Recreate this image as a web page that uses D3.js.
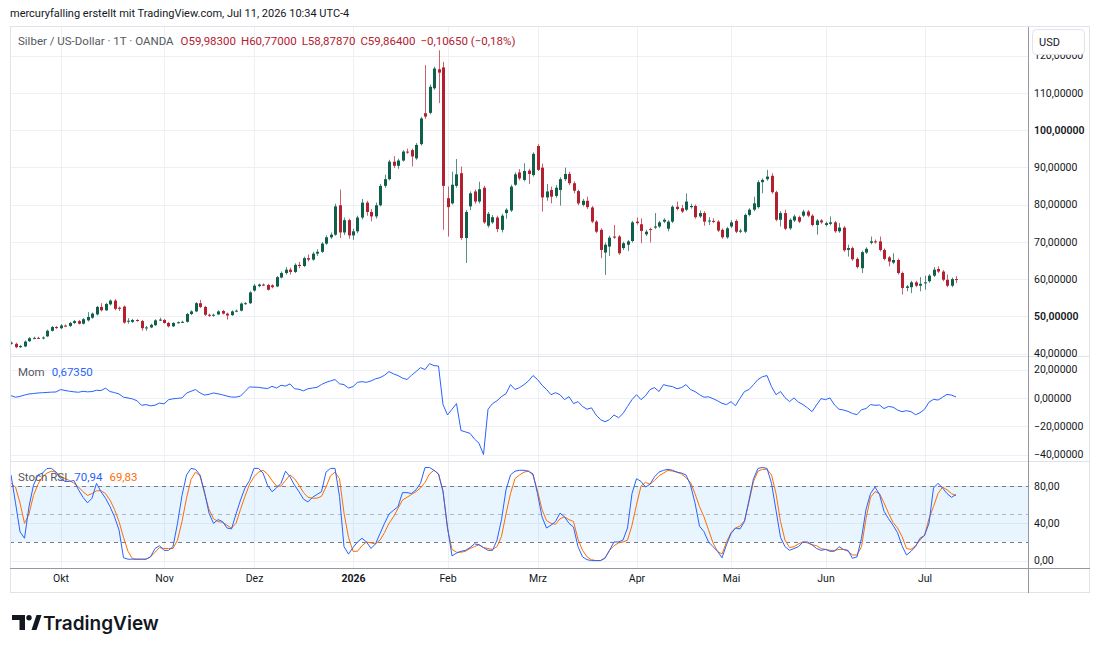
<!DOCTYPE html>
<html>
<head>
<meta charset="utf-8">
<script src="https://cdn.jsdelivr.net/npm/d3@7"></script>
<style>
  body { margin: 0; background: #ffffff; }
  svg text { font-family: Roboto, "Noto Sans", sans-serif; }
</style>
</head>
<body>
<script>
// daily bars, Mon-Fri minus market holidays
var startDate = "2025-09-16";
var endDate = "2026-07-10";
var holidays = ["2025-12-25", "2026-01-01", "2026-04-03"];
var monthLabels = ["Jan","Feb","Mrz","Apr","Mai","Jun","Jul","Aug","Sep","Okt","Nov","Dez"];

var openP = [42.7,42.6,41.7,41.9,43.3,44.1,44.2,44.1,44.6,46.1,47.1,46.8,47.5,47.4,48.2,48.7,48.0,48.9,49.6,50.5,
  52.5,51.6,53.2,54.2,52.3,52.6,48.6,48.5,49.0,48.7,46.8,47.0,47.6,48.9,49.0,48.2,47.3,48.2,48.4,48.5,
  50.6,51.3,53.5,52.5,50.4,50.2,50.5,51.4,50.7,50.3,51.3,51.5,53.4,53.5,56.9,58.1,58.5,58.4,58.3,58.0,
  60.4,61.6,62.5,61.9,63.8,63.5,65.6,65.2,66.8,67.3,69.5,71.2,71.9,79.8,72.5,75.8,71.7,72.8,76.5,80.5,
  78.0,76.8,79.8,85.0,86.8,91.5,90.4,91.8,94.2,94.6,92.4,96.2,104.5,104.6,111.2,116.3,116.8,81.7,80.3,85.0,
  88.4,71.0,79.5,83.5,80.8,84.5,74.3,75.2,76.5,73.2,77.7,78.4,85.3,88.6,86.6,89.1,87.9,95.7,89.9,81.9,
  83.9,82.3,83.9,86.8,88.2,85.7,83.6,79.9,81.0,79.2,75.4,73.2,67.1,68.7,71.4,71.4,68.3,69.2,70.2,75.4,
  74.7,72.0,73.4,73.8,74.1,75.4,73.5,75.4,79.4,79.0,78.6,79.3,79.6,76.8,77.7,75.5,75.6,75.4,73.2,71.2,
  74.1,75.6,72.7,72.7,77.2,78.6,79.3,86.0,86.8,87.7,83.3,75.9,77.7,73.6,75.7,76.6,77.0,78.1,77.0,74.5,
  75.7,74.5,74.8,75.2,72.8,73.8,67.8,68.3,65.4,62.9,67.1,69.7,70.1,70.1,67.8,65.8,64.4,65.1,61.6,57.6,
  57.8,59.1,58.2,58.9,59.4,60.9,62.7,62.0,59.8,58.2,59.983];
var highP = [43.2,42.9,42.3,43.5,44.4,44.5,44.5,44.6,46.4,47.4,47.4,47.9,47.8,48.5,49.0,49.0,49.5,51.1,51.0,52.8,
  53.5,53.6,54.5,54.6,52.6,52.9,49.5,49.3,49.2,49.0,47.4,48.0,49.2,49.6,49.3,48.5,48.4,48.6,48.8,50.9,
  51.6,53.8,54.4,52.8,50.7,50.7,51.6,51.7,51.0,51.6,51.8,53.7,53.8,56.7,58.7,58.8,58.8,58.7,58.6,60.8,
  62.0,63.2,63.0,64.2,64.6,66.0,66.6,67.3,68.0,69.9,71.7,72.5,80.2,84.0,76.5,76.2,73.5,77.0,81.5,81.0,
  78.8,80.5,85.5,88.0,92.0,93.0,92.3,94.6,95.0,95.0,96.5,103.5,117.4,112.2,117.0,121.4,118.3,84.8,88.8,92.2,
  90.2,78.5,83.5,84.0,86.1,85.0,78.0,77.2,77.0,77.5,79.0,85.3,88.6,89.5,91.1,89.6,94.0,96.2,91.0,85.5,
  84.8,85.2,87.3,89.9,88.8,86.2,84.0,81.5,82.1,79.6,75.8,73.6,69.8,71.6,74.5,71.8,70.0,70.5,75.6,76.5,
  76.3,73.2,73.8,77.7,75.6,76.3,75.8,79.8,80.8,79.9,83.0,80.2,80.0,78.4,78.2,76.6,76.3,75.8,73.6,74.0,
  75.8,76.0,73.5,77.6,79.0,82.1,86.5,87.0,89.3,88.4,83.7,78.2,78.6,76.3,77.3,77.0,78.6,78.5,77.4,76.1,
  76.1,75.4,76.8,75.6,75.0,74.2,69.2,68.7,65.8,67.6,68.5,71.4,70.6,71.4,68.2,66.2,66.9,65.5,62.0,58.4,
  59.5,59.5,60.5,60.9,61.3,63.2,63.4,62.4,61.2,60.4,60.77];
var lowP = [42.4,41.4,41.5,41.7,43.1,43.8,43.9,43.8,44.4,45.9,46.6,46.5,47.1,47.1,47.9,47.8,47.8,48.6,49.3,50.2,
  51.3,51.4,52.9,51.6,51.4,48.0,48.0,48.2,48.5,46.1,46.1,46.8,47.4,48.7,48.0,47.0,47.1,48.0,48.2,48.3,
  50.3,51.1,52.2,50.1,49.8,49.9,50.3,50.5,49.1,50.1,51.1,51.3,53.1,53.3,56.6,57.8,58.1,56.9,57.5,57.8,
  60.2,61.2,61.2,61.6,62.9,63.2,64.7,64.9,66.2,67.0,69.2,70.8,71.6,71.0,71.8,70.8,70.5,72.3,76.0,77.0,
  75.5,76.2,79.5,84.5,86.5,89.8,89.6,91.5,93.6,90.2,92.0,95.8,103.0,104.2,110.8,107.2,73.2,71.4,80.0,84.5,
  70.5,64.3,78.5,80.2,80.3,74.8,73.8,74.8,72.6,72.5,76.2,78.0,85.0,86.5,86.2,85.5,87.5,89.0,78.1,81.0,
  80.3,81.8,79.7,86.3,85.2,83.0,79.8,79.5,78.8,75.0,72.3,65.6,61.1,66.2,70.8,66.5,67.8,67.5,69.8,74.6,
  69.6,71.5,69.8,73.4,73.7,75.0,72.8,75.0,78.4,77.7,78.2,78.9,76.2,76.4,74.3,74.5,75.0,72.6,70.8,70.8,
  73.7,72.3,72.3,72.3,76.8,78.2,78.9,83.0,86.4,82.9,75.5,74.1,73.1,73.2,75.3,75.0,76.6,76.6,74.1,71.9,
  74.8,74.1,74.4,72.4,72.4,67.3,66.0,64.9,62.8,61.6,66.7,69.3,69.5,67.4,65.0,63.4,64.0,61.2,55.8,56.7,
  56.2,57.8,56.7,57.1,59.0,60.5,61.6,59.4,57.8,57.8,58.8787];
var closeP = [42.9,41.7,42.0,43.2,44.1,44.2,44.1,44.3,46.1,47.1,46.9,47.5,47.4,48.2,48.7,48.0,49.2,49.8,50.7,52.5,
  51.6,53.3,54.2,52.0,52.0,48.3,48.8,49.0,48.8,46.8,47.0,47.7,48.9,49.1,48.2,47.3,48.2,48.4,48.5,50.6,
  51.3,53.5,52.5,50.4,50.2,50.4,51.3,50.7,50.2,51.3,51.5,53.4,53.5,56.4,58.2,58.5,58.4,57.1,57.8,60.5,
  61.6,62.5,61.9,63.8,63.5,65.6,65.2,66.8,67.3,69.5,71.2,71.9,79.5,72.5,75.8,71.7,72.8,76.5,80.5,78.0,
  76.8,79.8,85.0,86.8,91.5,90.4,91.8,94.2,94.0,92.9,96.0,103.1,103.6,111.6,116.5,115.4,85.0,79.3,85.3,88.1,
  71.0,78.0,83.0,80.8,84.1,75.2,77.5,76.6,73.4,77.0,78.6,84.8,88.1,87.0,89.0,88.2,93.6,89.3,81.9,83.5,
  82.1,84.5,86.8,88.2,85.7,83.7,80.3,81.0,79.3,75.4,72.7,67.8,69.2,71.1,71.1,66.9,69.6,70.1,75.2,75.0,
  72.9,72.7,73.2,74.1,75.2,75.9,75.4,79.4,78.8,78.1,80.8,79.6,76.6,77.7,75.4,75.7,75.4,73.0,71.2,73.6,
  75.2,72.7,73.0,77.2,78.6,80.3,86.0,86.6,87.5,83.3,75.9,77.7,73.5,75.9,76.8,75.4,78.1,77.0,74.5,75.7,
  75.2,75.0,75.2,72.8,73.8,67.7,68.3,65.3,63.2,67.2,68.1,70.1,69.9,67.8,65.4,64.7,65.1,61.6,57.6,58.0,
  59.1,58.2,58.7,59.1,60.9,62.5,62.0,59.8,58.2,59.9705,59.864];

var mom = [1.6,0.5,1.1,2.0,2.8,3.1,3.5,3.7,3.9,4.1,4.2,5.9,5.3,4.7,4.3,4.0,4.7,4.3,4.5,5.4,
  5.2,6.9,4.5,3.8,2.8,0.5,0.0,-0.7,-2.0,-5.2,-4.7,-5.6,-5.1,-3.6,-4.2,-1.3,-0.6,-0.3,0.0,3.4,
  4.7,5.9,3.6,2.0,2.6,3.5,2.9,2.2,1.3,0.6,0.6,1.3,4.5,7.8,7.6,7.5,7.0,6.6,8.2,7.0,
  8.9,8.4,9.9,6.5,6.1,5.0,6.5,7.0,7.5,9.5,11.0,12.0,13.0,10.0,9.4,7.0,8.0,11.0,11.5,11.0,
  12.0,13.5,14.3,16.0,18.6,17.0,15.8,14.0,13.0,16.0,18.6,21.4,20.0,24.2,22.8,22.5,-4.7,-12.0,-8.0,-4.0,
  -23.0,-24.0,-25.0,-29.0,-32.0,-40.0,-8.0,-4.0,-2.0,1.0,3.0,9.4,6.0,7.3,9.4,12.0,15.8,13.0,9.0,6.0,
  2.3,3.7,2.3,-1.2,0.9,-4.0,-2.6,-6.0,-8.0,-7.0,-12.0,-15.3,-16.8,-15.3,-12.0,-14.0,-11.0,-6.0,-1.2,2.3,
  -1.2,1.5,5.9,7.3,4.5,9.4,8.5,8.0,6.5,7.3,9.4,5.9,4.5,2.3,0.5,0.8,-0.5,-2.0,-3.8,-4.7,
  -2.6,-5.5,-0.3,4.5,5.9,9.4,13.0,15.0,15.8,8.0,2.3,4.5,0.2,-2.6,0.0,-3.0,-4.7,-7.0,-9.7,-5.0,
  -0.5,-1.2,0.0,-5.0,-8.0,-8.5,-9.5,-11.0,-11.8,-8.3,-7.5,-4.7,-5.2,-5.0,-7.5,-6.0,-6.5,-8.5,-9.7,-9.0,
  -9.7,-11.8,-10.5,-8.0,-3.0,-1.0,-1.5,0.5,2.5,2.0,0.6735];

var stochK = [92,62,31,24,58,81,92,94,99,99,95,88,85,85,86,76,68,62,67,83,
  74,67,58,47,33,3,1.5,1.5,1.5,1.5,1.5,4,13,16,11,11,15,40,70,92,
  99,98,92,74,51,40,44,42,35,34,50,65,78,86,99,99,94,81,74,78,
  83,96,90,81,74,66,63,68,71,74,95,99,99,69,15,7,14,20,24,20,
  13,18,29,40,50,54,58,73,73,72,76,83,100,100,97,93,74,36,5,8,
  10,11,14,18,17,14,11,11,22,44,76,92,96,97,97,96,93,72,47,35,
  38,42,51,47,40,36,15,4,1,0,0,0,2.5,11,20,20,22,35,72,88,
  85,79,82,90,95,97,98,97,95,94,92,81,62,37,31,20,15,10,3,17,
  29,35,34,42,65,88,99,100,99,83,54,25,15,11,13,15,20,20,17,13,
  11,12,10,10,15,12,11,2.5,4,24,55,72,79,71,53,45,38,30,16,6,
  10,15,24,27,40,78,83,78,72,68,70.94];
var stochD = [83,79,62,40,50,70,82,90,94,96,95,91,88,86,83,79,74,70,72,75,
  75,72,65,55,42,25,10,2,1.5,1.5,1.5,4,9,14,13,13,13,22,42,67,
  87,95,91,72,55,45,42,41,38,35,40,55,69,82,90,95,97,93,86,80,
  80,86,92,88,81,73,68,67,67,69,79,91,95,88,51,25,10,10,16,20,
  19,18,22,30,40,47,56,65,68,71,74,78,84,93,97,93,75,34,12,9,
  9,10,13,15,17,14,13,12,15,26,50,72,88,92,95,96,92,75,55,43,
  40,39,45,47,44,42,23,11,4,1,0,0,3,11,16,19,20,22,38,60,
  80,84,82,86,91,94,97,96,95,93,89,84,72,58,47,33,19,10,7,20,
  30,35,37,43,63,85,96,98,98,92,72,42,22,14,15,18,20,19,17,16,
  13,12,11,11,12,12,10,6,6,15,45,68,74,72,62,51,41,35,26,13,
  12,16,22,27,45,58,72,79,76,72,69.83];

var priceTicks = [40,50,60,70,80,90,100,110,120];
var boldPriceTicks = [50,100];
var momTicks = [20,0,-20,-40];
var stochTicks = [0,40,80];
var stochLevels = [80,50,20];

var upColor = "#0f604a", downColor = "#b3202f";
var momColor = "#2962ff", kColor = "#2962ff", dColor = "#ff6d00";
var gridColor = "#eef0f5", borderColor = "#e0e3eb", axisLineColor = "#9598a1";

var de = d3.formatLocale({decimal: ",", thousands: ".", grouping: [3], currency: ["", ""], minus: "\u2212"});
var f5 = de.format(".5f"), f2 = de.format(".2f");

function tradingDays() {
  var out = [];
  var d = new Date(startDate + "T12:00:00Z"), end = new Date(endDate + "T12:00:00Z");
  while (d <= end) {
    var wd = d.getUTCDay(), iso = d.toISOString().slice(0, 10);
    if (wd !== 0 && wd !== 6 && holidays.indexOf(iso) < 0) out.push(new Date(d));
    d.setUTCDate(d.getUTCDate() + 1);
  }
  return out;
}

function draw() {
  var W = 1100, H = 651;
  var plotL = 10, plotR = 1028, frameR = 1090;
  var mainT = 27, mainB = 356, momT = 357, momB = 461, stT = 462, stB = 568, timeB = 593;
  var n = closeP.length;
  var days = tradingDays().slice(0, n);

  var svg = d3.select("body").append("svg").attr("width", W).attr("height", H);

  var x = d3.scaleLinear().domain([0, n - 1]).range([11, 11 + 4.5 * (n - 1)]);
  var yP = d3.scaleLinear().domain([40, 100]).range([353.5, 130]);
  var yM = d3.scaleLinear().domain([-40, 20]).range([454.6, 369.6]);
  var yS = d3.scaleLinear().domain([0, 80]).range([560.6, 486.1]);

  // month starts
  var monthIdx = [];
  for (var i = 1; i < days.length; i++) {
    if (days[i].getUTCMonth() !== days[i - 1].getUTCMonth()) monthIdx.push(i);
  }
  function monthLabel(i) {
    var m = days[i].getUTCMonth();
    return m === 0 ? String(days[i].getUTCFullYear()) : monthLabels[m];
  }

  var defs = svg.append("defs");
  defs.append("clipPath").attr("id", "clipMain").append("rect")
    .attr("x", plotL).attr("y", mainT).attr("width", plotR - plotL).attr("height", mainB - mainT);
  defs.append("clipPath").attr("id", "clipMom").append("rect")
    .attr("x", plotL).attr("y", momT).attr("width", plotR - plotL).attr("height", momB - momT);
  defs.append("clipPath").attr("id", "clipSt").append("rect")
    .attr("x", plotL).attr("y", stT).attr("width", plotR - plotL).attr("height", stB - stT);

  // grid
  var grid = svg.append("g").attr("stroke", gridColor).attr("stroke-width", 1);
  monthIdx.forEach(function (i) {
    grid.append("line").attr("x1", Math.round(x(i)) + 0.5).attr("x2", Math.round(x(i)) + 0.5)
      .attr("y1", mainT).attr("y2", stB);
  });
  priceTicks.forEach(function (v) {
    if (yP(v) > mainT && yP(v) < mainB)
      grid.append("line").attr("x1", plotL).attr("x2", plotR).attr("y1", Math.round(yP(v)) + 0.5).attr("y2", Math.round(yP(v)) + 0.5);
  });
  momTicks.forEach(function (v) {
    grid.append("line").attr("x1", plotL).attr("x2", plotR).attr("y1", Math.round(yM(v)) + 0.5).attr("y2", Math.round(yM(v)) + 0.5);
  });
  stochTicks.forEach(function (v) {
    grid.append("line").attr("x1", plotL).attr("x2", plotR).attr("y1", Math.round(yS(v)) + 0.5).attr("y2", Math.round(yS(v)) + 0.5);
  });

  // candles
  var cg = svg.append("g").attr("clip-path", "url(#clipMain)");
  var idx = d3.range(n);
  cg.selectAll("line.wick").data(idx).enter().append("line")
    .attr("x1", function (i) { return Math.round(x(i)) + 0.5; })
    .attr("x2", function (i) { return Math.round(x(i)) + 0.5; })
    .attr("y1", function (i) { return yP(highP[i]); })
    .attr("y2", function (i) { return yP(lowP[i]); })
    .attr("stroke", function (i) { return closeP[i] >= openP[i] ? upColor : downColor; })
    .attr("stroke-opacity", 0.7)
    .attr("stroke-width", 1);
  cg.selectAll("rect.body").data(idx).enter().append("rect")
    .attr("x", function (i) { return Math.round(x(i)) - 1; })
    .attr("width", 3)
    .attr("y", function (i) { return Math.min(yP(openP[i]), yP(closeP[i])); })
    .attr("height", function (i) { return Math.max(1, Math.abs(yP(openP[i]) - yP(closeP[i]))); })
    .attr("fill", function (i) { return closeP[i] >= openP[i] ? upColor : downColor; });

  // momentum
  svg.append("path").datum(mom).attr("clip-path", "url(#clipMom)")
    .attr("d", d3.line().x(function (d, i) { return x(i); }).y(function (d) { return yM(d); }))
    .attr("fill", "none").attr("stroke", momColor).attr("stroke-width", 1);

  // stoch rsi
  var sg = svg.append("g").attr("clip-path", "url(#clipSt)");
  sg.append("rect").attr("x", plotL).attr("width", plotR - plotL)
    .attr("y", yS(80)).attr("height", yS(20) - yS(80)).attr("fill", "rgba(33,150,243,0.1)");
  stochLevels.forEach(function (v) {
    sg.append("line").attr("x1", plotL).attr("x2", plotR)
      .attr("y1", Math.round(yS(v)) + 0.5).attr("y2", Math.round(yS(v)) + 0.5)
      .attr("stroke", "#787b86").attr("stroke-opacity", v === 50 ? 0.5 : 1)
      .attr("stroke-dasharray", "4,4");
  });
  var sl = d3.line().x(function (d, i) { return x(i); }).y(function (d) { return yS(d); });
  sg.append("path").datum(stochD).attr("d", sl).attr("fill", "none").attr("stroke", dColor).attr("stroke-width", 1);
  sg.append("path").datum(stochK).attr("d", sl).attr("fill", "none").attr("stroke", kColor).attr("stroke-width", 1);

  // frame and separators
  var fr = svg.append("g").attr("fill", "none");
  fr.append("rect").attr("x", plotL + 0.5).attr("y", mainT - 0.5).attr("width", frameR - plotL - 1).attr("height", timeB - mainT)
    .attr("stroke", borderColor);
  [momT - 0.5, stT - 0.5].forEach(function (yy) {
    fr.append("line").attr("x1", plotL).attr("x2", frameR).attr("y1", yy).attr("y2", yy).attr("stroke", borderColor);
  });
  fr.append("line").attr("x1", plotL).attr("x2", frameR).attr("y1", stB + 0.5).attr("y2", stB + 0.5).attr("stroke", axisLineColor);
  fr.append("line").attr("x1", plotR + 0.5).attr("x2", plotR + 0.5).attr("y1", mainT).attr("y2", timeB).attr("stroke", axisLineColor);

  // axes
  function styleAxis(g) {
    g.select(".domain").remove();
    g.selectAll("line").remove();
    g.selectAll("text").attr("fill", "#131722").attr("font-size", "10.5px")
      .style("font-family", "Roboto, 'Noto Sans', sans-serif");
  }
  var pa = svg.append("g").attr("transform", "translate(" + plotR + ",0)")
    .call(d3.axisRight(yP).tickValues(priceTicks).tickSize(0).tickPadding(6).tickFormat(f5));
  styleAxis(pa);
  pa.selectAll("text").attr("font-weight", function (d) { return boldPriceTicks.indexOf(d) >= 0 ? 600 : 400; });
  var ma = svg.append("g").attr("transform", "translate(" + plotR + ",0)")
    .call(d3.axisRight(yM).tickValues(momTicks).tickSize(0).tickPadding(6).tickFormat(f5));
  styleAxis(ma);
  var sa = svg.append("g").attr("transform", "translate(" + plotR + ",0)")
    .call(d3.axisRight(yS).tickValues(stochTicks).tickSize(0).tickPadding(6).tickFormat(f2));
  styleAxis(sa);
  var ta = svg.append("g").attr("transform", "translate(0," + stB + ")")
    .call(d3.axisBottom(x).tickValues(monthIdx).tickSize(0).tickPadding(7).tickFormat(monthLabel));
  styleAxis(ta);
  ta.selectAll("text").attr("font-weight", function (i) { return days[i].getUTCMonth() === 0 ? 700 : 400; });

  // USD button (covers most of the top price label)
  svg.append("rect").attr("x", 1032.5).attr("y", 29.5).attr("width", 52).attr("height", 25).attr("rx", 4)
    .attr("fill", "#ffffff").attr("stroke", "#e0e3eb");
  svg.append("text").attr("x", 1039).attr("y", 46).attr("font-size", "11px").attr("fill", "#131722").text("USD");

  // header + legends
  svg.append("text").attr("x", 10).attr("y", 17).attr("font-size", "11px").attr("fill", "#131722")
    .text("mercuryfalling erstellt mit TradingView.com, Jul 11, 2026 10:34 UTC-4");

  var last = n - 1;
  var chg = closeP[last] - closeP[last - 1];
  var lg = svg.append("text").attr("x", 18).attr("y", 45).attr("font-size", "11.5px");
  lg.append("tspan").attr("fill", "#555862").text("Silber / US-Dollar \u00b7 1T \u00b7 OANDA");
  var lc = closeP[last] >= openP[last] ? upColor : downColor;
  lg.append("tspan").attr("dx", 7).attr("fill", lc).text("O" + f5(openP[last]));
  lg.append("tspan").attr("dx", 5).attr("fill", lc).text("H" + f5(highP[last]));
  lg.append("tspan").attr("dx", 5).attr("fill", lc).text("L" + f5(lowP[last]));
  lg.append("tspan").attr("dx", 5).attr("fill", lc).text("C" + f5(closeP[last]));
  lg.append("tspan").attr("dx", 5).attr("fill", lc)
    .text(f5(chg) + " (" + f2(chg / closeP[last - 1] * 100) + "%)");

  var ml = svg.append("text").attr("x", 18).attr("y", 376).attr("font-size", "11.5px");
  ml.append("tspan").attr("fill", "#555862").text("Mom");
  ml.append("tspan").attr("dx", 7).attr("fill", momColor).text(f5(mom[last]));

  var stl = svg.append("text").attr("x", 18).attr("y", 481).attr("font-size", "11.5px");
  stl.append("tspan").attr("fill", "#555862").text("Stoch RSI");
  stl.append("tspan").attr("dx", 7).attr("fill", kColor).text(f2(stochK[last]));
  stl.append("tspan").attr("dx", 7).attr("fill", dColor).text(f2(stochD[last]));

  // TradingView logo
  var logo = svg.append("g").attr("fill", "#131722");
  logo.append("path").attr("d", "M12,615 H25 V630 H19.5 V620 H12 Z");
  logo.append("circle").attr("cx", 29).attr("cy", 617.8).attr("r", 2.7);
  logo.append("path").attr("d", "M31.5,630 L36.5,615 H41.5 L36.5,630 Z");
  svg.append("text").attr("x", 43).attr("y", 630).attr("font-size", "19px").attr("font-weight", 600)
    .attr("fill", "#131722").style("font-family", "Inter, Roboto, sans-serif").text("TradingView");
}
draw();
</script>
</body>
</html>
